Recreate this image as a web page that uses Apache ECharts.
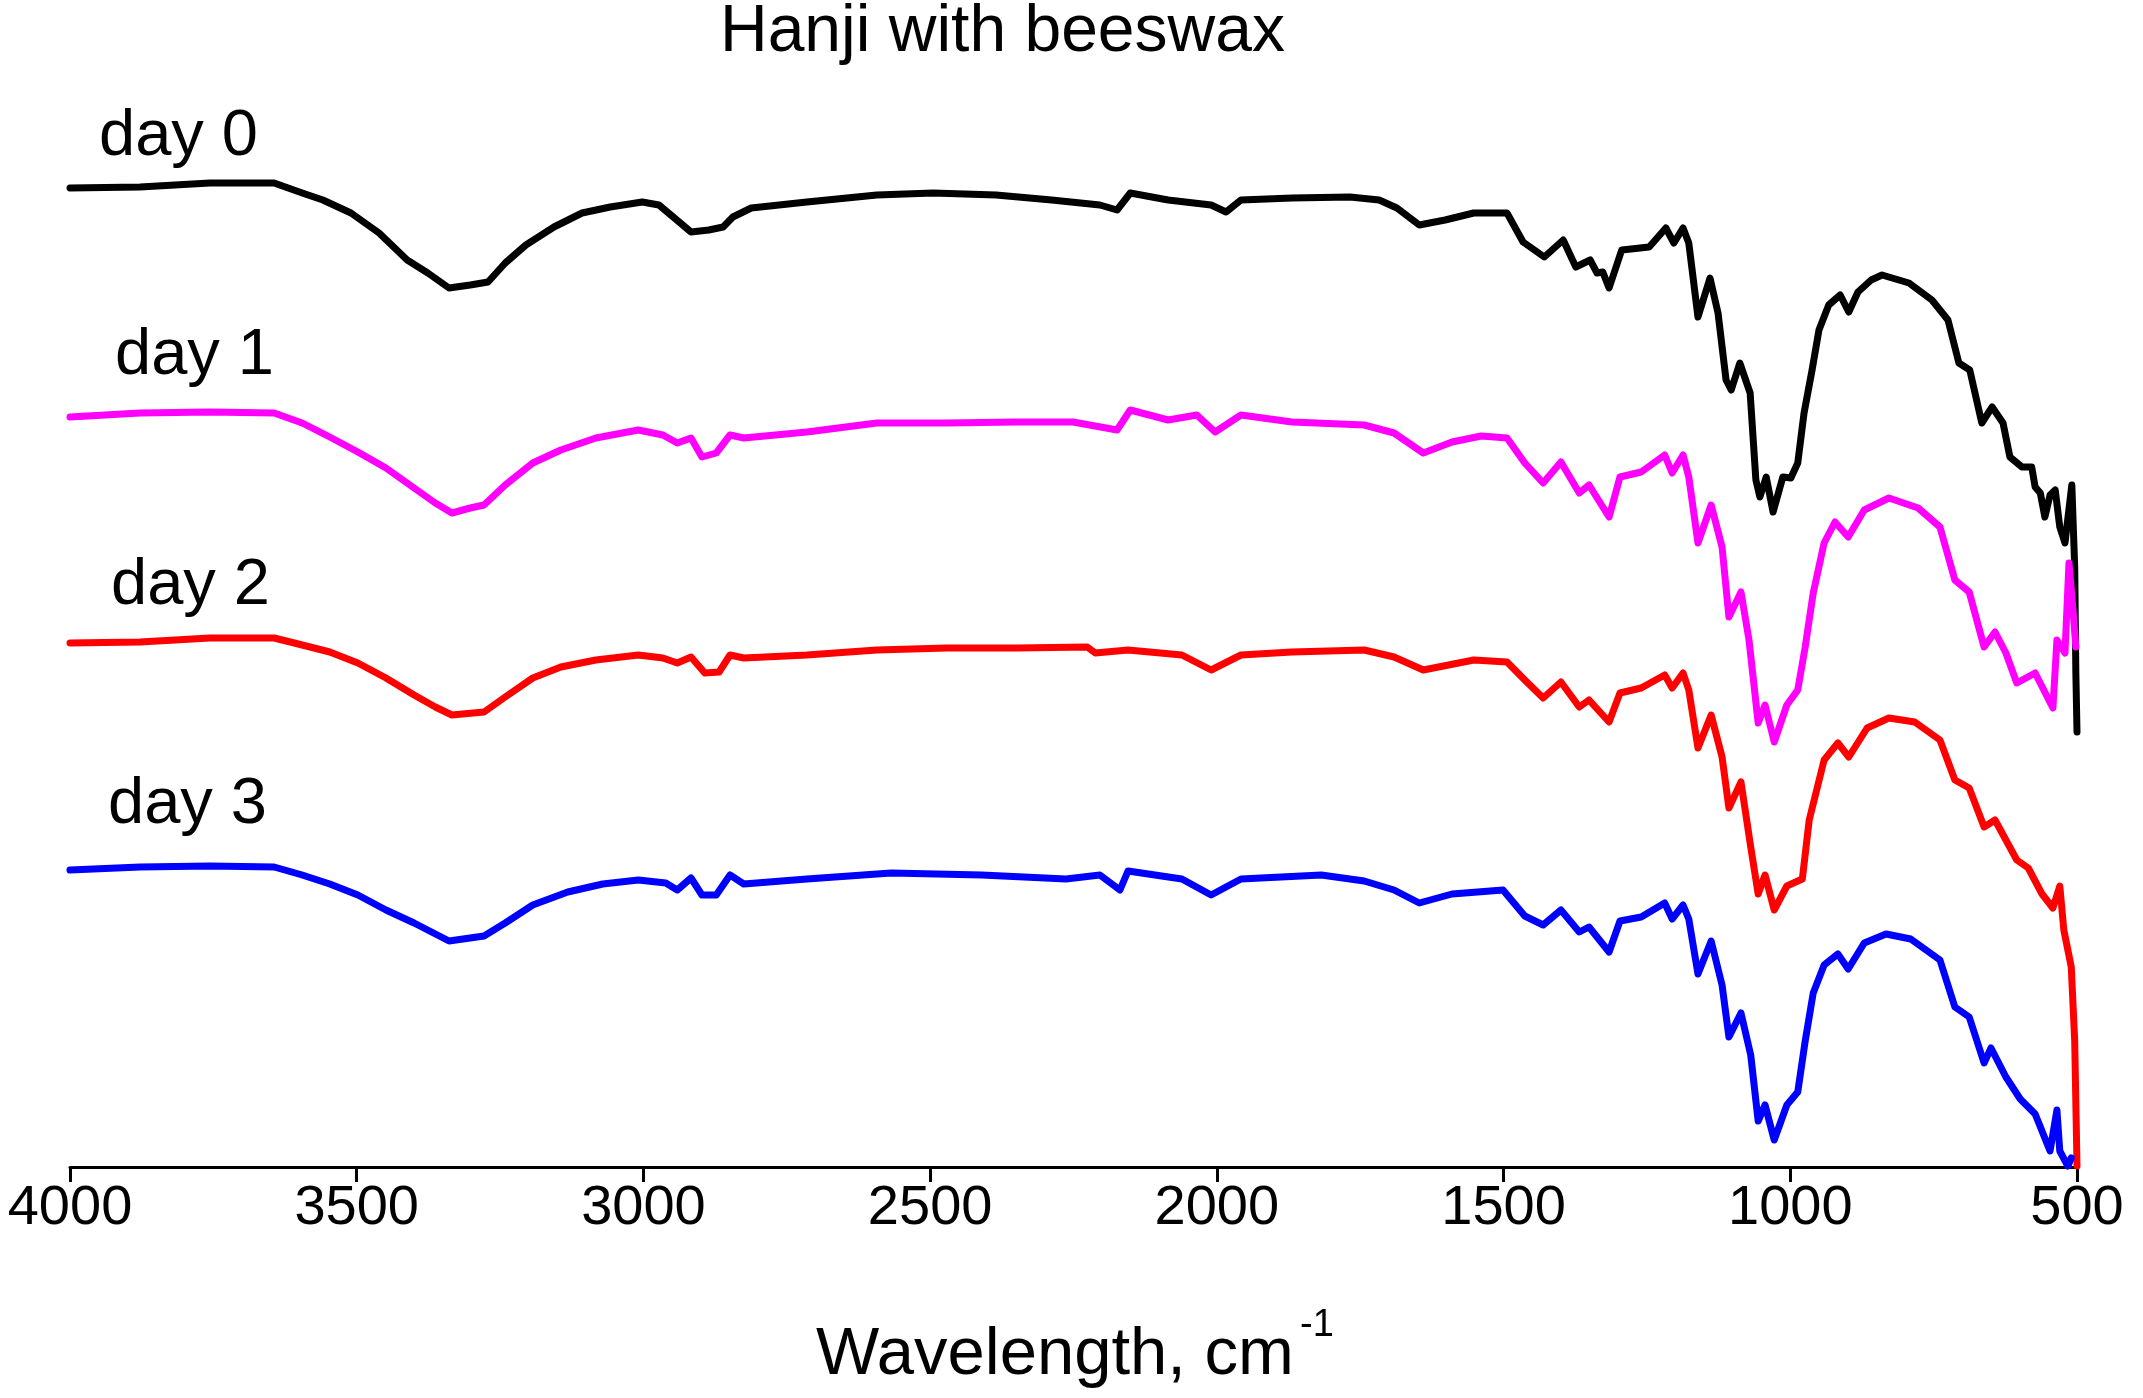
<!DOCTYPE html>
<html>
<head>
<meta charset="utf-8">
<script src="https://cdn.jsdelivr.net/npm/echarts@6/dist/echarts.min.js"></script>
<style>
html,body{margin:0;padding:0;background:#fff;}
#chart{width:2143px;height:1398px;}
</style>
</head>
<body>
<div id="chart"></div>
<script>
// ---- DATA (wavenumber cm^-1, transmittance in arbitrary offset units) ----
const seriesNames = ['day 0', 'day 1', 'day 2', 'day 3'];
const xTicks = [4000, 3500, 3000, 2500, 2000, 1500, 1000, 500];

const day0 = [[4000,97.9],[3878,98.0],[3756,98.4],[3644,98.4],[3595,97.4],[3559,96.7],[3510,95.4],[3461,93.4],[3412,90.7],[3376,89.4],[3339,87.9],[3302,88.2],[3271,88.5],[3241,90.4],[3205,92.2],[3156,94.0],[3107,95.4],[3058,96.0],[3002,96.5],[2973,96.2],[2948,95.0],[2917,93.5],[2886,93.7],[2861,94.0],[2844,95.0],[2812,95.9],[2715,96.5],[2593,97.2],[2495,97.4],[2385,97.2],[2288,96.7],[2204,96.2],[2174,95.7],[2151,97.4],[2085,96.7],[2010,96.2],[1984,95.5],[1958,96.7],[1869,96.9],[1768,97.0],[1717,96.7],[1686,95.9],[1647,94.2],[1602,94.7],[1552,95.4],[1494,95.4],[1466,92.5],[1429,91.0],[1396,92.7],[1374,90.0],[1349,90.7],[1337,89.4],[1327,89.5],[1316,87.9],[1294,91.7],[1246,92.0],[1217,93.9],[1203,92.4],[1187,93.9],[1177,92.4],[1161,85.0],[1140,88.9],[1126,85.4],[1112,78.7],[1103,77.7],[1088,80.4],[1070,77.4],[1060,68.7],[1053,67.0],[1042,69.0],[1030,65.5],[1013,69.0],[999,68.9],[987,70.4],[976,75.4],[962,79.7],[950,83.7],[933,86.2],[913,87.2],[898,85.5],[882,87.5],[859,88.7],[840,89.2],[793,88.4],[753,86.7],[725,84.7],[706,80.4],[687,79.7],[666,74.4],[648,76.0],[629,74.4],[617,71.0],[596,70.0],[579,70.0],[573,68.0],[564,67.4],[556,65.0],[547,67.2],[538,67.7],[530,64.0],[521,62.4],[509,68.2],[504,60.0],[502,49.4],[500,43.5]];

const day1 = [[4000,75.0],[3878,75.4],[3756,75.5],[3644,75.4],[3595,74.4],[3547,73.0],[3498,71.5],[3449,69.9],[3400,67.9],[3363,66.4],[3334,65.4],[3302,65.9],[3278,66.2],[3241,68.2],[3193,70.4],[3144,71.7],[3083,72.9],[3009,73.7],[2966,73.2],[2941,72.4],[2917,72.9],[2898,71.0],[2873,71.4],[2849,73.2],[2825,72.9],[2715,73.5],[2593,74.4],[2471,74.4],[2349,74.5],[2251,74.5],[2174,73.7],[2151,75.7],[2085,74.7],[2035,75.2],[2003,73.5],[1958,75.2],[1869,74.5],[1743,74.2],[1691,73.4],[1640,71.4],[1590,72.5],[1539,73.1],[1494,72.9],[1463,70.4],[1431,68.4],[1400,70.5],[1368,67.4],[1351,68.2],[1316,65.0],[1297,69.0],[1260,69.5],[1219,71.2],[1206,69.4],[1187,71.2],[1177,69.0],[1161,62.4],[1138,66.2],[1119,62.0],[1107,55.0],[1086,57.5],[1072,52.7],[1056,44.4],[1044,46.2],[1028,42.5],[1006,46.2],[987,47.7],[974,52.0],[960,57.4],[941,62.4],[922,64.5],[899,63.0],[871,65.7],[828,66.9],[777,65.9],[739,64.0],[713,58.7],[688,57.5],[662,52.0],[643,53.5],[624,51.4],[605,48.4],[573,49.4],[542,45.9],[535,52.7],[521,51.4],[514,60.4],[507,55.7],[502,52.0]];

const day2 = [[4000,52.4],[3878,52.5],[3756,52.9],[3644,52.9],[3595,52.2],[3547,51.5],[3498,50.4],[3449,48.9],[3400,47.2],[3363,46.0],[3334,45.2],[3278,45.5],[3241,47.0],[3193,48.9],[3144,50.0],[3083,50.7],[3009,51.2],[2966,50.9],[2941,50.4],[2917,51.0],[2893,49.4],[2868,49.5],[2849,51.2],[2825,50.9],[2715,51.2],[2593,51.7],[2471,51.9],[2349,51.9],[2226,52.0],[2212,51.4],[2155,51.7],[2061,51.2],[2010,49.7],[1958,51.2],[1869,51.5],[1743,51.7],[1691,51.0],[1640,49.7],[1552,50.7],[1494,50.5],[1463,48.7],[1431,46.9],[1400,48.5],[1368,46.0],[1351,46.7],[1316,44.5],[1297,47.4],[1260,47.9],[1219,49.2],[1206,47.9],[1187,49.4],[1177,47.7],[1161,41.9],[1138,45.2],[1119,41.0],[1107,35.9],[1086,38.5],[1069,32.0],[1056,27.3],[1044,29.2],[1028,25.7],[1006,28.1],[979,28.8],[967,34.7],[941,40.7],[917,42.4],[898,41.0],[866,43.9],[828,44.9],[783,44.5],[739,42.7],[713,38.7],[688,37.9],[662,34.0],[643,34.7],[624,32.7],[605,30.7],[585,29.9],[561,27.3],[542,25.9],[530,28.1],[523,23.7],[510,20.0],[504,12.6],[500,0.1]];

const day3 = [[4000,29.7],[3878,30.0],[3756,30.1],[3644,30.0],[3595,29.2],[3547,28.3],[3498,27.2],[3449,25.7],[3400,24.4],[3339,22.6],[3278,23.1],[3241,24.4],[3193,26.2],[3132,27.5],[3071,28.3],[3009,28.7],[2961,28.4],[2941,27.7],[2917,28.9],[2898,27.2],[2873,27.2],[2849,29.2],[2825,28.3],[2715,28.8],[2568,29.4],[2410,29.2],[2263,28.8],[2204,29.2],[2169,27.7],[2155,29.6],[2061,28.8],[2010,27.2],[1958,28.8],[1818,29.2],[1743,28.6],[1691,27.7],[1647,26.4],[1590,27.3],[1501,27.7],[1463,25.1],[1431,24.2],[1400,25.7],[1368,23.5],[1351,24.0],[1316,21.5],[1297,24.6],[1260,25.0],[1219,26.4],[1206,24.8],[1187,26.2],[1177,24.8],[1161,19.3],[1138,22.6],[1119,18.2],[1107,13.0],[1086,15.4],[1069,11.2],[1056,4.6],[1044,6.2],[1028,2.7],[1006,6.2],[987,7.5],[974,12.6],[960,17.4],[941,20.2],[917,21.3],[899,19.8],[871,22.4],[833,23.3],[790,22.8],[739,20.7],[713,16.0],[688,15.0],[662,10.4],[650,11.9],[624,9.0],[599,6.8],[573,5.3],[547,1.6],[535,5.7],[530,1.6],[516,0.1],[510,0.9]];

const seriesData = [day0, day1, day2, day3];
const seriesColors = ['#000000', '#ff00ff', '#ff0000', '#0000ff'];

// ---- LAYOUT ----
const FONT = '"Liberation Sans", Arial, Helvetica, sans-serif';
const labelPos = [[99, 137], [115, 356], [111, 586], [108, 805]];

const chart = echarts.init(document.getElementById('chart'), null, {renderer: 'canvas', width: 2143, height: 1398});

const graphics = seriesNames.map((n, i) => ({
  type: 'text',
  x: labelPos[i][0], y: labelPos[i][1],
  style: { text: n, font: '65px ' + FONT, fill: '#000', textAlign: 'left', textVerticalAlign: 'middle', verticalAlign: 'middle' }
}));
graphics.push({
  type: 'text', x: 816, y: 1356,
  style: { text: 'Wavelength, cm', font: '67px ' + FONT, fill: '#000', textAlign: 'left', textVerticalAlign: 'middle', verticalAlign: 'middle' }
});
graphics.push({
  type: 'text', x: 1300, y: 1326,
  style: { text: '-1', font: '38px ' + FONT, fill: '#000', textAlign: 'left', textVerticalAlign: 'middle', verticalAlign: 'middle' }
});

chart.setOption({
  animation: false,
  backgroundColor: '#ffffff',
  title: {
    text: 'Hanji with beeswax',
    left: 720, top: 0, padding: 0,
    textStyle: { fontSize: 66, fontWeight: 'normal', fontFamily: FONT, color: '#000' }
  },
  grid: { left: 70, right: 66, top: 0, bottom: 231, containLabel: false, outerBoundsMode: 'none' },
  xAxis: {
    type: 'value', min: 500, max: 4000, interval: 500, inverse: true,
    axisLine: { show: true, onZero: false, lineStyle: { color: '#000', width: 3 } },
    axisTick: { show: true, inside: false, length: 15, lineStyle: { color: '#000', width: 3 } },
    axisLabel: { show: true, margin: 14, fontSize: 56, fontFamily: FONT, color: '#000', showMinLabel: true, showMaxLabel: true,
      formatter: v => xTicks.includes(v) ? String(v) : '' },
    splitLine: { show: false }
  },
  yAxis: { type: 'value', min: 0, max: 116.7, show: false, splitLine: { show: false } },
  graphic: graphics,
  series: seriesData.map((d, i) => ({
    name: seriesNames[i], type: 'line', data: d, showSymbol: false, symbol: 'none',
    smooth: false, lineStyle: { color: seriesColors[i], width: 7, join: 'round', cap: 'round' },
    itemStyle: { color: seriesColors[i] }, z: 2 + i
  }))
});
</script>
</body>
</html>
